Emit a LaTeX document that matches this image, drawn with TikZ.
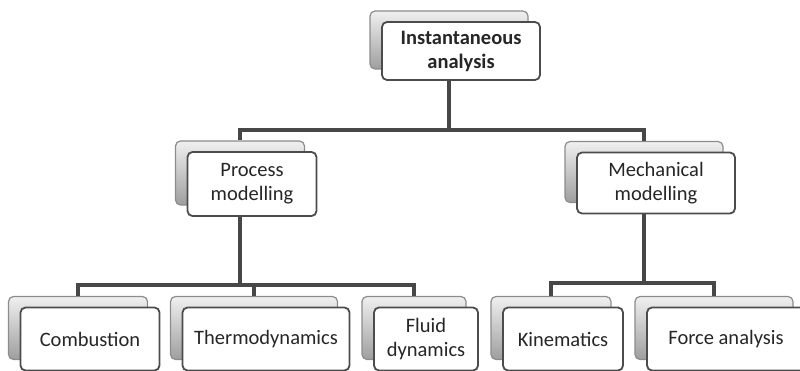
\documentclass[tikz,border=0pt]{standalone}
\usepackage{fontspec}
\setmainfont{Carlito}
\usepackage{tikz}

\begin{document}
\begin{tikzpicture}[x=1pt, y=-1pt,
    card/.style={draw=black!70, line width=1.8pt, rounded corners=5pt, fill=white, inner sep=0pt, align=center, text=black!85, font=\fontsize{20.5}{24}\selectfont},
    cardbk/.style={draw=black!45, line width=1.2pt, rounded corners=5pt, top color=black!6, bottom color=black!38, inner sep=0pt},
    link/.style={draw=black!72, line width=3.6pt}]
    \clip (0,0) rectangle (800,371);
    % back copies
    \node [cardbk, minimum width=158pt, minimum height=58pt] (topbk) at (449,40) {};
    \node [cardbk, minimum width=129pt, minimum height=64pt] (procbk) at (240,173) {};
    \node [cardbk, minimum width=158pt, minimum height=61pt] (mechbk) at (644,172) {};
    \node [cardbk, minimum width=139pt, minimum height=63pt] (combk) at (78,328) {};
    \node [cardbk, minimum width=167pt, minimum height=63pt] (thermbk) at (254,328) {};
    \node [cardbk, minimum width=104pt, minimum height=63pt] (fluidbk) at (414,328) {};
    \node [cardbk, minimum width=120pt, minimum height=63pt] (kinbk) at (551,328) {};
    \node [cardbk, minimum width=158pt, minimum height=63pt] (forcebk) at (714,328) {};
    % front cards
    \node [card, minimum width=158pt, minimum height=58pt] (top) at (461,51) {\bfseries Instantaneous\\\bfseries analysis};
    \node [card, minimum width=129pt, minimum height=64pt] (proc) at (252,184) {Process\\modelling};
    \node [card, minimum width=158pt, minimum height=61pt] (mech) at (656,183) {Mechanical\\modelling};
    \node [card, minimum width=139pt, minimum height=63pt] (comb) at (90,339) {Combustion};
    \node [card, minimum width=167pt, minimum height=63pt] (therm) at (266,339) {Thermodynamics};
    \node [card, minimum width=104pt, minimum height=63pt] (fluid) at (426,339) {Fluid\\dynamics};
    \node [card, minimum width=120pt, minimum height=63pt] (kin) at (563,339) {Kinematics};
    \node [card, minimum width=158pt, minimum height=63pt] (force) at (726,339) {Force analysis};
    % connectors
    \coordinate (bar1) at (449,130);
    \coordinate (bar2) at (240,285);
    \coordinate (bar3) at (644,283);
    \draw [link] (topbk |- top.south) -- (bar1) -| (procbk.north);
    \draw [link] (bar1) -| (mechbk.north);
    \draw [link] (procbk |- proc.south) -- (bar2) -| (combk.north);
    \draw [link] (bar2) -| (thermbk.north);
    \draw [link] (bar2) -| (fluidbk.north);
    \draw [link] (mechbk |- mech.south) -- (bar3) -| (kinbk.north);
    \draw [link] (bar3) -| (forcebk.north);
\end{tikzpicture}
\end{document}
